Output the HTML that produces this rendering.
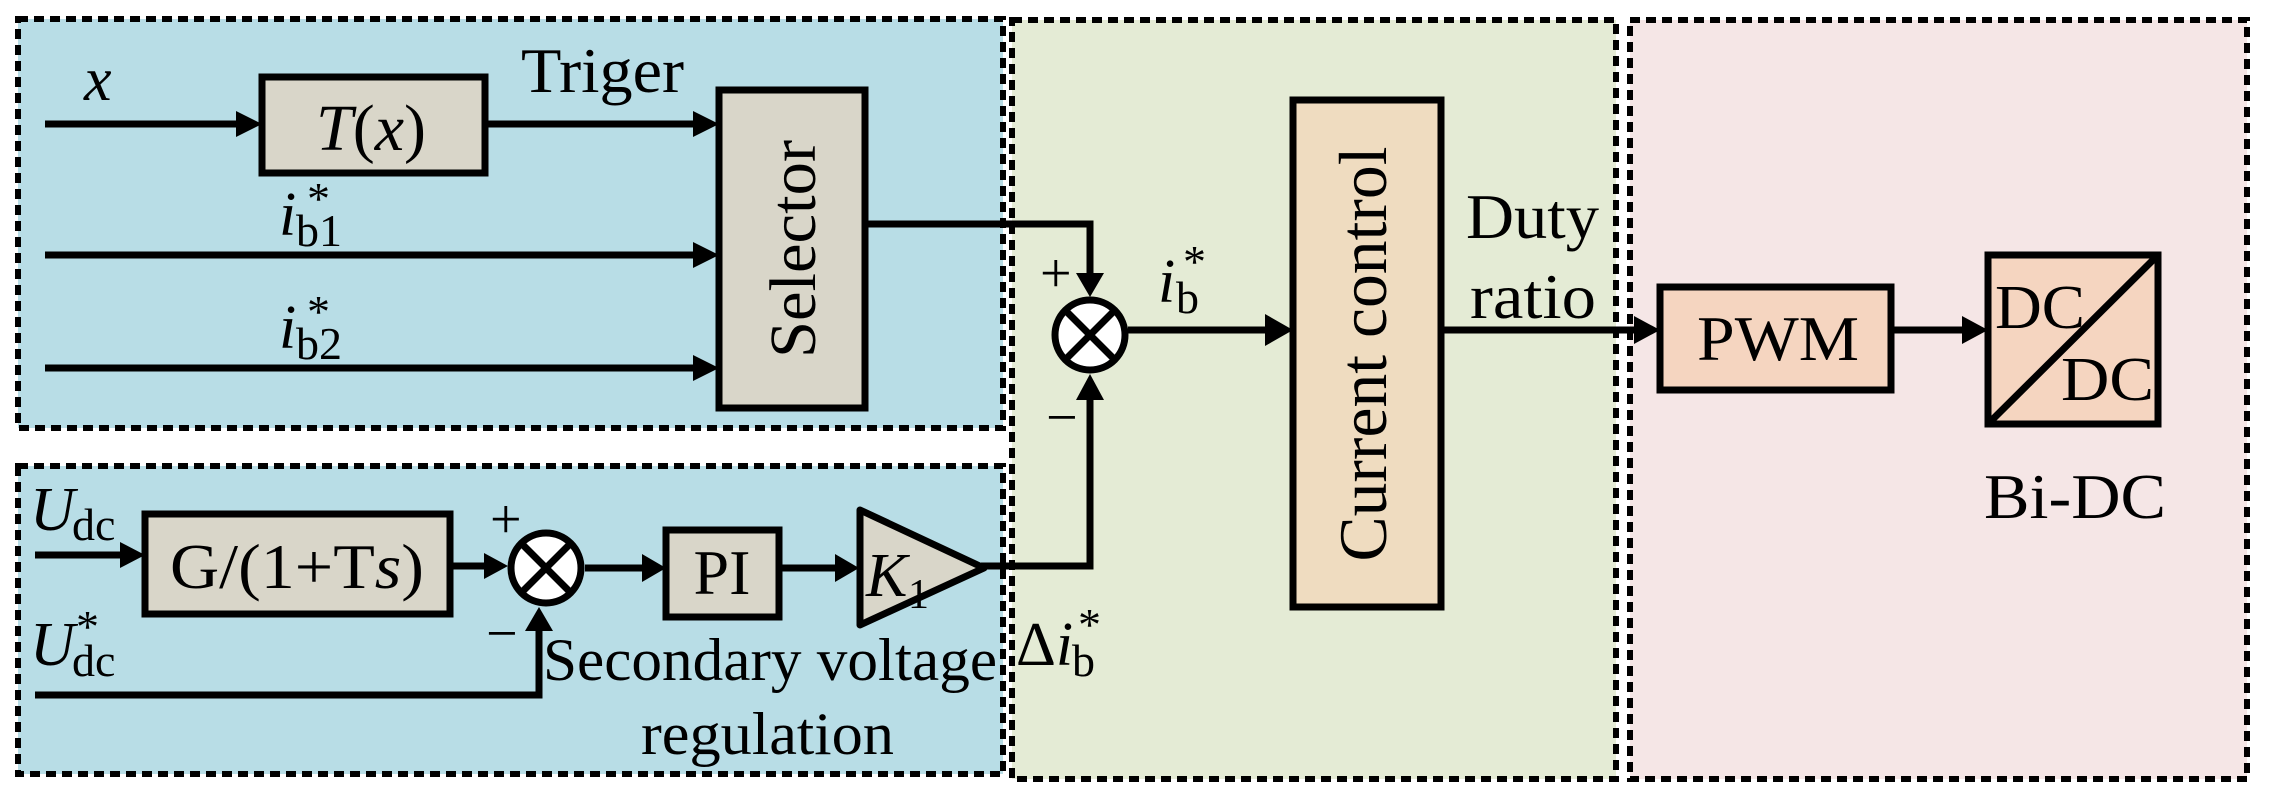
<!DOCTYPE html>
<html><head><meta charset="utf-8"><style>
html,body{margin:0;padding:0;background:#fff;}
svg{display:block;}
svg text{font-family:"Liberation Serif","Times New Roman","DejaVu Serif",serif;fill:#000;}
</style></head><body>
<svg width="2270" height="805" viewBox="0 0 2270 805" xmlns="http://www.w3.org/2000/svg" font-family="Liberation Serif, Times New Roman, DejaVu Serif, serif">
<rect x="18" y="19" width="985" height="409" fill="#b8dde6" stroke="#000" stroke-width="6" stroke-dasharray="10 6"/>
<rect x="18" y="466" width="985" height="308" fill="#b8dde6" stroke="#000" stroke-width="6" stroke-dasharray="10 6"/>
<rect x="1012" y="20" width="604" height="759" fill="#e4ebd5" stroke="#000" stroke-width="6" stroke-dasharray="10 6"/>
<rect x="1630" y="20" width="617" height="759" fill="#f5e6e6" stroke="#000" stroke-width="6" stroke-dasharray="10 6"/>

<g stroke="#000" stroke-width="7" fill="none">
<line x1="45" y1="124" x2="240" y2="124"/>
<line x1="485" y1="124" x2="698" y2="124"/>
<line x1="45" y1="255" x2="698" y2="255"/>
<line x1="45" y1="368" x2="698" y2="368"/>
<polyline points="865,224 1090,224 1090,275"/>
<polyline points="981,566 1090,566 1090,397"/>
<line x1="1128" y1="330" x2="1270" y2="330"/>
<line x1="1441" y1="330" x2="1638" y2="330"/>
<line x1="1891" y1="330" x2="1966" y2="330"/>
<line x1="35" y1="555" x2="124" y2="555"/>
<line x1="450" y1="566" x2="488" y2="566"/>
<line x1="585" y1="568" x2="644" y2="568"/>
<line x1="779" y1="568" x2="838" y2="568"/>
<polyline points="35,695 539,695 539,628"/>
</g>
<g fill="#000">
<polygon points="262,124 236,111 236,137"/>
<polygon points="719,124 693,111 693,137"/>
<polygon points="719,255 693,242 693,268"/>
<polygon points="719,368 693,355 693,381"/>
<polygon points="1090,297 1076,273 1104,273"/>
<polygon points="1090,374 1076,400 1104,400"/>
<polygon points="1293,330 1265,314 1265,346"/>
<polygon points="1660,330 1634,316 1634,344"/>
<polygon points="1988,330 1962,316 1962,344"/>
<polygon points="145,555 120,542 120,568"/>
<polygon points="508,566 484,553 484,579"/>
<polygon points="666,568 642,554 642,582"/>
<polygon points="859,568 835,554 835,582"/>
<polygon points="539,607 525,631 553,631"/>
</g>
<g stroke="#000" stroke-width="7">
<rect x="262" y="77" width="223" height="96" fill="#d9d6c9"/>
<rect x="719" y="90" width="146" height="318" fill="#d9d6c9"/>
<rect x="145" y="514" width="305" height="100" fill="#d9d6c9"/>
<rect x="666" y="530" width="113" height="87" fill="#d9d6c9"/>
<polygon points="860,510 984,568 860,625" fill="#d9d6c9" stroke-linejoin="round"/>
<rect x="1293" y="100" width="148" height="507" fill="#efdcc0"/>
<rect x="1660" y="287" width="231" height="103" fill="#f5d5c0"/>
<rect x="1988" y="255" width="170" height="169" fill="#f5d5c0"/>
<line x1="1990" y1="422" x2="2156" y2="257"/>
<circle cx="1090" cy="335" r="35" fill="#fff"/>
<line x1="1066" y1="311" x2="1114" y2="359"/>
<line x1="1114" y1="311" x2="1066" y2="359"/>
<circle cx="546" cy="568" r="35" fill="#fff"/>
<line x1="522" y1="544" x2="570" y2="592"/>
<line x1="570" y1="544" x2="522" y2="592"/>
</g>
<text x="84" y="100" font-size="62" font-style="italic">x</text>
<text x="316" y="150" font-size="66"><tspan font-style="italic">T</tspan>(<tspan font-style="italic">x</tspan>)</text>
<text x="521" y="92" font-size="64" textLength="163" lengthAdjust="spacingAndGlyphs">Triger</text>
<text transform="translate(815,249) rotate(-90)" text-anchor="middle" font-size="66" textLength="218" lengthAdjust="spacingAndGlyphs">Selector</text>
<text x="279" y="235" font-size="62" font-style="italic">i</text>
<text x="296" y="246" font-size="46">b1</text>
<text x="307" y="214" font-size="46">*</text>
<text x="279" y="348" font-size="62" font-style="italic">i</text>
<text x="296" y="359" font-size="46">b2</text>
<text x="307" y="327" font-size="46">*</text>
<text x="1040" y="292" font-size="56">+</text>
<text x="1046" y="436" font-size="56">−</text>
<text x="1158" y="302" font-size="62" font-style="italic">i</text>
<text x="1176" y="313" font-size="46">b</text>
<text x="1183" y="277" font-size="46">*</text>
<text transform="translate(1386,354) rotate(-90)" text-anchor="middle" font-size="68" textLength="415" lengthAdjust="spacingAndGlyphs">Current control</text>
<text x="1466" y="238" font-size="64" textLength="133" lengthAdjust="spacingAndGlyphs">Duty</text>
<text x="1470" y="318" font-size="64" textLength="126" lengthAdjust="spacingAndGlyphs">ratio</text>
<text x="1778" y="360" text-anchor="middle" font-size="64" textLength="162" lengthAdjust="spacingAndGlyphs">PWM</text>
<text x="1995" y="328" font-size="62" textLength="90" lengthAdjust="spacingAndGlyphs">DC</text>
<text x="2061" y="400" font-size="62" textLength="93" lengthAdjust="spacingAndGlyphs">DC</text>
<text x="1984" y="518" font-size="64" textLength="182" lengthAdjust="spacingAndGlyphs">Bi-DC</text>
<text x="30" y="530" font-size="62" font-style="italic">U</text>
<text x="72" y="540" font-size="46">dc</text>
<text x="30" y="665" font-size="62" font-style="italic">U</text>
<text x="72" y="676" font-size="46">dc</text>
<text x="76" y="642" font-size="46">*</text>
<text x="297" y="588" text-anchor="middle" font-size="64" textLength="254" lengthAdjust="spacingAndGlyphs">G/(1+T<tspan font-style="italic">s</tspan>)</text>
<text x="490" y="538" font-size="56">+</text>
<text x="486" y="652" font-size="56">−</text>
<text x="722" y="594" text-anchor="middle" font-size="64">PI</text>
<text x="866" y="596" font-size="62" font-style="italic">K</text>
<text x="908" y="608" font-size="42">1</text>
<text x="543" y="680" font-size="60" textLength="454" lengthAdjust="spacingAndGlyphs">Secondary voltage</text>
<text x="641" y="754" font-size="60" textLength="253" lengthAdjust="spacingAndGlyphs">regulation</text>
<text x="1016" y="665" font-size="62">Δ<tspan font-style="italic">i</tspan></text>
<text x="1072" y="676" font-size="46">b</text>
<text x="1078" y="640" font-size="46">*</text>
</svg>
</body></html>
